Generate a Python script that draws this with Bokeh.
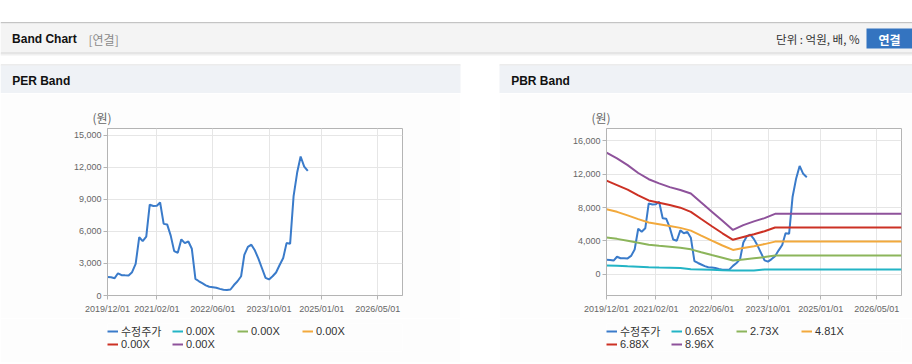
import pandas as pd
from bokeh.plotting import figure
from bokeh.models import (Range1d, FixedTicker, NumeralTickFormatter, DatetimeTickFormatter,
                          Legend, LegendItem, Title, ColumnDataSource, Spacer)
from bokeh.layouts import column, row
from bokeh.core.properties import value
from bokeh.embed import file_html
from bokeh.resources import INLINE

# ---------------- data ----------------
price_months = [
    "2019-12", "2020-01", "2020-02", "2020-03", "2020-04", "2020-05", "2020-06", "2020-07",
    "2020-08", "2020-09", "2020-10", "2020-11", "2020-12", "2021-01", "2021-02", "2021-03",
    "2021-04", "2021-05", "2021-06", "2021-07", "2021-08", "2021-09", "2021-10", "2021-11",
    "2021-12", "2022-01", "2022-02", "2022-03", "2022-04", "2022-05", "2022-06", "2022-07",
    "2022-08", "2022-09", "2022-10", "2022-11", "2022-12", "2023-01", "2023-02", "2023-03",
    "2023-04", "2023-05", "2023-06", "2023-07", "2023-08", "2023-09", "2023-10", "2023-11",
    "2023-12", "2024-01", "2024-02", "2024-03", "2024-04", "2024-05", "2024-06", "2024-07",
    "2024-08", "2024-09",
]
price_values = [
    1720, 1700, 1620, 2080, 1900, 1890, 1880, 2180,
    2950, 5450, 5080, 5500, 8500, 8370, 8400, 8700,
    6700, 6650, 5600, 4150, 4000, 5250, 4900, 5050,
    4370, 1550, 1330, 1150, 950, 820, 780, 730,
    620, 530, 520, 560, 980, 1330, 1800, 3800,
    4550, 4750, 4200, 3450, 2550, 1650, 1500, 1800,
    2150, 2850, 3500, 4900, 4850, 9300, 11500, 13000,
    12050, 11650,
]

band_dates = [
    "2019-12-01", "2020-03-01", "2020-06-01", "2020-09-01", "2020-12-01", "2021-03-01",
    "2021-06-01", "2021-09-01", "2021-12-01", "2022-03-01", "2022-06-01", "2022-09-01",
    "2022-12-01", "2023-03-01", "2023-06-01", "2023-09-01", "2023-12-01", "2026-12-01",
]
pbr_labels = ["0.65X", "2.73X", "4.81X", "6.88X", "8.96X"]
pbr_band_0_65 = [1030, 1000, 930, 880, 820, 780, 760, 740, 580, 560, 520, 470, 430, 430, 430, 550, 550, 550]
pbr_band_2_73 = [4400, 4230, 4000, 3760, 3520, 3400, 3280, 3150, 2970, 2620, 2280, 1950, 1620, 1760, 1900, 2040, 2220, 2220]
pbr_band_4_81 = [7800, 7480, 7050, 6600, 6200, 6000, 5780, 5550, 5220, 4620, 4020, 3430, 2900, 3120, 3340, 3600, 3900, 3900]
pbr_band_6_88 = [11230, 10700, 10150, 9450, 8850, 8580, 8300, 7980, 7480, 6620, 5750, 4900, 4120, 4450, 4780, 5150, 5590, 5590]
pbr_band_8_96 = [14600, 13900, 13100, 12150, 11400, 10900, 10450, 10100, 9680, 8590, 7500, 6400, 5300, 5880, 6330, 6720, 7240, 7240]

per_labels = ["0.00X", "0.00X", "0.00X", "0.00X", "0.00X"]
per_bands = [[], [], [], [], []]   # PER bands have no drawable values (0.00X)

price_label = "수정주가"
unit_label = "(원)"
x_tick_labels = ["2019/12/01", "2021/02/01", "2022/06/01", "2023/10/01", "2025/01/01", "2026/05/01"]
x_start, x_end = "2019-12-01", "2026-12-01"
per_y_ticks = [0, 3000, 6000, 9000, 12000, 15000]
pbr_y_ticks = [0, 4000, 8000, 12000, 16000]
per_y_range = (0, 15620)
pbr_y_range = (-2580, 17500)

band_colors = ["#23b4c5", "#8cb55b", "#f2a93c", "#cc3124", "#8e529b"]
price_color = "#3a7bca"

# ---------------- helpers ----------------
def ms(s):
    return pd.Timestamp(s).timestamp() * 1000.0

LAT = "Liberation Sans"
KR = "Noto Sans CJK KR"
MIX = "Liberation Sans, Noto Sans CJK KR"
PANEL_BG = "#fdfdfd"
NAN = float("nan")

price_src = ColumnDataSource(dict(d=[ms(m + "-01") for m in price_months], v=price_values))
band_x = [ms(d) for d in band_dates]
tick_ms = [ms(pd.to_datetime(t, format="%Y/%m/%d")) for t in x_tick_labels]

CHART_H = 225
LEG_H = 44
FRAME_H = 167
TOP_B = 35


def make_chart(width, left, right, yr, yticks, bands):
    p = figure(width=width, height=CHART_H, x_range=Range1d(ms(x_start), ms(x_end)),
               y_range=Range1d(*yr), output_backend="svg", toolbar_location=None,
               min_border_left=left, min_border_right=right, min_border_top=TOP_B,
               min_border_bottom=CHART_H - TOP_B - FRAME_H,
               background_fill_color="#ffffff", border_fill_color=PANEL_BG,
               outline_line_color="#b4b4b4")
    p.xaxis.ticker = FixedTicker(ticks=tick_ms)
    fmt = "%Y/%m/%d"
    p.xaxis.formatter = DatetimeTickFormatter(years=fmt, months=fmt, days=fmt, hours=fmt,
                                              hourmin=fmt, minutes=fmt, minsec=fmt, seconds=fmt,
                                              milliseconds=fmt, microseconds=fmt)
    p.yaxis.ticker = FixedTicker(ticks=yticks)
    p.yaxis.formatter = NumeralTickFormatter(format="0,0")
    for ax, st in ((p.xaxis, 4), (p.yaxis, 2)):
        ax.axis_line_color = "#b4b4b4"
        ax.major_tick_line_color = "#b4b4b4"
        ax.major_tick_out = 4
        ax.major_tick_in = 0
        ax.minor_tick_line_color = None
        ax.major_label_text_font = LAT
        ax.major_label_text_font_size = "9px"
        ax.major_label_text_color = "#666666"
        ax.major_label_standoff = st
    p.grid.grid_line_color = "#e6e6e6"

    p.line(x="d", y="v", source=price_src, line_color=price_color, line_width=2)
    for vals, c in zip(bands, band_colors):
        if vals:
            src = ColumnDataSource(dict(d=band_x[:len(vals)], v=vals))
            p.line(x="d", y="v", source=src, line_color=c, line_width=2)
    p.add_layout(Title(text=unit_label, align="left", offset=-15, standoff=6,
                       text_font=KR, text_font_size="12px", text_font_style="normal",
                       text_color="#666666"), "above")
    return p


def make_legend(width, labels):
    # legend strip below each chart; frame starts where the legend starts
    lf = figure(width=width, height=LEG_H, x_range=Range1d(0, 1), y_range=Range1d(0, 1),
                min_border_left=107, min_border_right=0, min_border_top=5, min_border_bottom=11,
                toolbar_location=None, output_backend="svg",
                x_axis_location=None, y_axis_location=None, outline_line_color=None,
                background_fill_color=PANEL_BG, border_fill_color=PANEL_BG)
    lf.grid.visible = False
    rs = []
    for c in [price_color] + band_colors:
        rs.append(lf.line(x=[NAN], y=[NAN], line_color=c, line_width=2))
    names = [price_label] + list(labels)
    items = [LegendItem(label=n, renderers=[r]) for n, r in zip(names, rs)]
    common = dict(orientation="horizontal", glyph_width=11, glyph_height=14, label_height=14,
                  label_width=51, label_standoff=3, spacing=0, padding=0, margin=0,
                  border_line_color=None, background_fill_alpha=0,
                  label_text_font=MIX, label_text_font_size="11px", label_text_color="#333333")
    lf.add_layout(Legend(items=items[:4], location="top_left", **common))
    lf.add_layout(Legend(items=items[4:], location="bottom_left", **common))
    return lf


per = make_chart(460, 102, 58, per_y_range, per_y_ticks, per_bands)
pbr = make_chart(413, 102, 11, pbr_y_range, pbr_y_ticks,
                 [pbr_band_0_65, pbr_band_2_73, pbr_band_4_81, pbr_band_6_88, pbr_band_8_96])
per_leg = make_legend(460, per_labels)
pbr_leg = make_legend(413, pbr_labels)

# ---------------- header / title bars ----------------
top = figure(width=912, height=93, x_range=Range1d(0, 912), y_range=Range1d(93, 0),
             min_border=0, toolbar_location=None, output_backend="svg",
             x_axis_location=None, y_axis_location=None, outline_line_color=None,
             background_fill_color="#ffffff", border_fill_color="#ffffff")
top.grid.visible = False
top.quad(left=[0, 0, 0, 0, 0, 0, 499, 0, 499, 866],
         right=[912, 912, 912, 912, 912, 460, 912, 460, 912, 912],
         top=[21.5, 23, 52, 53, 54, 64, 64, 65, 65, 28],
         bottom=[23, 52, 53, 54, 55, 65, 65, 93, 93, 48],
         fill_color=["#c4c4c4", "#f4f4f4", "#d2d2d2", "#e2e2e2", "#f0f0f0",
                     "#dadada", "#dadada", "#eff2f6", "#eff2f6", "#3474c0"],
         line_color=None)
top.text(x=[11.6, 11.7, 510.7], y=[38.5, 80.7, 80.7], text=["Band Chart", "PER Band", "PBR Band"],
         text_font=value(LAT), text_font_style="bold", text_font_size="12px",
         text_color="#111111", text_baseline="middle")
top.text(x=[88], y=[38.5], text=["[연결]"], text_font=value(KR), text_font_size="12px",
         text_color="#8a8a8a", text_baseline="middle")
top.text(x=[859], y=[38.5], text=["단위 : 억원, 배, %"], text_font=value(KR),
         text_font_size="11.5px", text_color="#333333", text_baseline="middle", text_align="right")
top.text(x=[889], y=[38.5], text=["연결"], text_font=value(KR), text_font_style="bold",
         text_font_size="12px", text_color="#ffffff", text_baseline="middle", text_align="center")

bottom = figure(width=912, height=2, x_range=Range1d(0, 912), y_range=Range1d(0, 2),
                min_border=0, toolbar_location=None, output_backend="svg",
                x_axis_location=None, y_axis_location=None, outline_line_color=None,
                background_fill_color="#ffffff", border_fill_color="#ffffff")
bottom.grid.visible = False
bottom.quad(left=[0, 499], right=[460, 912], top=[2, 2], bottom=[0, 0],
            fill_color="#d4d4d4", line_color=None)

layout = column(top,
                row(column(per, per_leg), Spacer(width=39, height=CHART_H + LEG_H),
                    column(pbr, pbr_leg)),
                bottom)

open("out.html", "w").write(file_html(layout, INLINE))
